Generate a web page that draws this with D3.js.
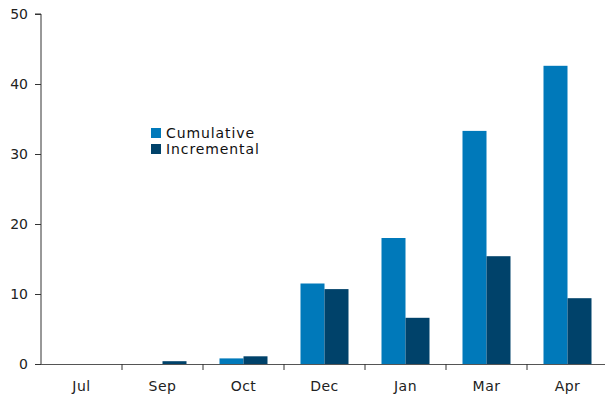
<!DOCTYPE html>
<html>
<head>
<meta charset="utf-8">
<script src="https://d3js.org/d3.v7.min.js"></script>
<style>
  html, body { margin: 0; padding: 0; background: #fff; }
  svg { display: block; }
</style>
</head>
<body>
<svg id="chart" width="605" height="396"></svg>
<script>
const categories = ["Jul", "Sep", "Oct", "Dec", "Jan", "Mar", "Apr"];
const cumulative = [0, 0, 0.8, 11.5, 18.0, 33.3, 42.6];
const incremental = [0, 0.4, 1.1, 10.7, 6.6, 15.4, 9.4];
const seriesNames = ["Cumulative", "Incremental"];
const seriesColors = ["#0079BA", "#00426A"];
const yTicks = [0, 10, 20, 30, 40, 50];

const svg = d3.select("#chart");
const font = "'DejaVu Sans', Verdana, sans-serif";

const x0 = 41, x1 = 608, yTop = 14, yBottom = 364;

const x = d3.scaleBand().domain(categories).range([x0, x1]).padding(0);
const barW = 24;
const inner = d3.scaleBand().domain(seriesNames)
  .range([x.bandwidth() / 2 - barW, x.bandwidth() / 2 + barW]).padding(0);
const y = d3.scaleLinear().domain([0, 50]).range([yBottom, yTop]);

const data = categories.map((c, i) => ({cat: c, vals: [cumulative[i], incremental[i]]}));

// bars
const g = svg.append("g");
data.forEach(d => {
  d.vals.forEach((v, j) => {
    const h = yBottom - y(v);
    if (h <= 0) return;
    g.append("rect")
      .attr("x", x(d.cat) + inner(seriesNames[j]))
      .attr("y", y(v))
      .attr("width", inner.bandwidth())
      .attr("height", h)
      .attr("fill", seriesColors[j]);
  });
});

// y axis
const yAxis = d3.axisLeft(y).tickValues(yTicks).tickSize(6).tickPadding(7).tickFormat(d3.format("d"));
const ya = svg.append("g").attr("transform", `translate(${x0},0)`).call(yAxis);
ya.select(".domain").attr("stroke", "#333").attr("d", `M-6,${yTop}H0V${yBottom}`);
ya.selectAll(".tick line").attr("stroke", "#333");
ya.selectAll(".tick text").attr("font-family", font).attr("font-size", 14).attr("fill", "#222");

// x axis
const xAxis = d3.axisBottom(x).tickSize(0).tickPadding(17);
const xa = svg.append("g").attr("transform", `translate(0,${yBottom})`).call(xAxis);
xa.select(".domain").attr("stroke", "#555").attr("d", `M${x0},0.5H605`);
xa.selectAll(".tick text").attr("font-family", font).attr("font-size", 14)
  .attr("letter-spacing", "0.5px").attr("fill", "#222");
// category boundary ticks
const bounds = categories.slice(1).map(c => x(c));
xa.selectAll(".bnd").data(bounds).enter().append("line")
  .attr("class", "bnd")
  .attr("x1", d => d).attr("x2", d => d)
  .attr("y1", 0).attr("y2", 6)
  .attr("stroke", "#333");

// legend
const lg = svg.append("g").attr("transform", "translate(151,128)");
seriesNames.forEach((n, i) => {
  lg.append("rect").attr("x", 0).attr("y", i * 16).attr("width", 10).attr("height", 10)
    .attr("fill", seriesColors[i]);
  lg.append("text").attr("x", 15).attr("y", i * 16 + 10)
    .attr("font-family", font).attr("font-size", 14).attr("letter-spacing", "0.9px")
    .attr("fill", "#111")
    .text(n);
});
</script>
</body>
</html>
